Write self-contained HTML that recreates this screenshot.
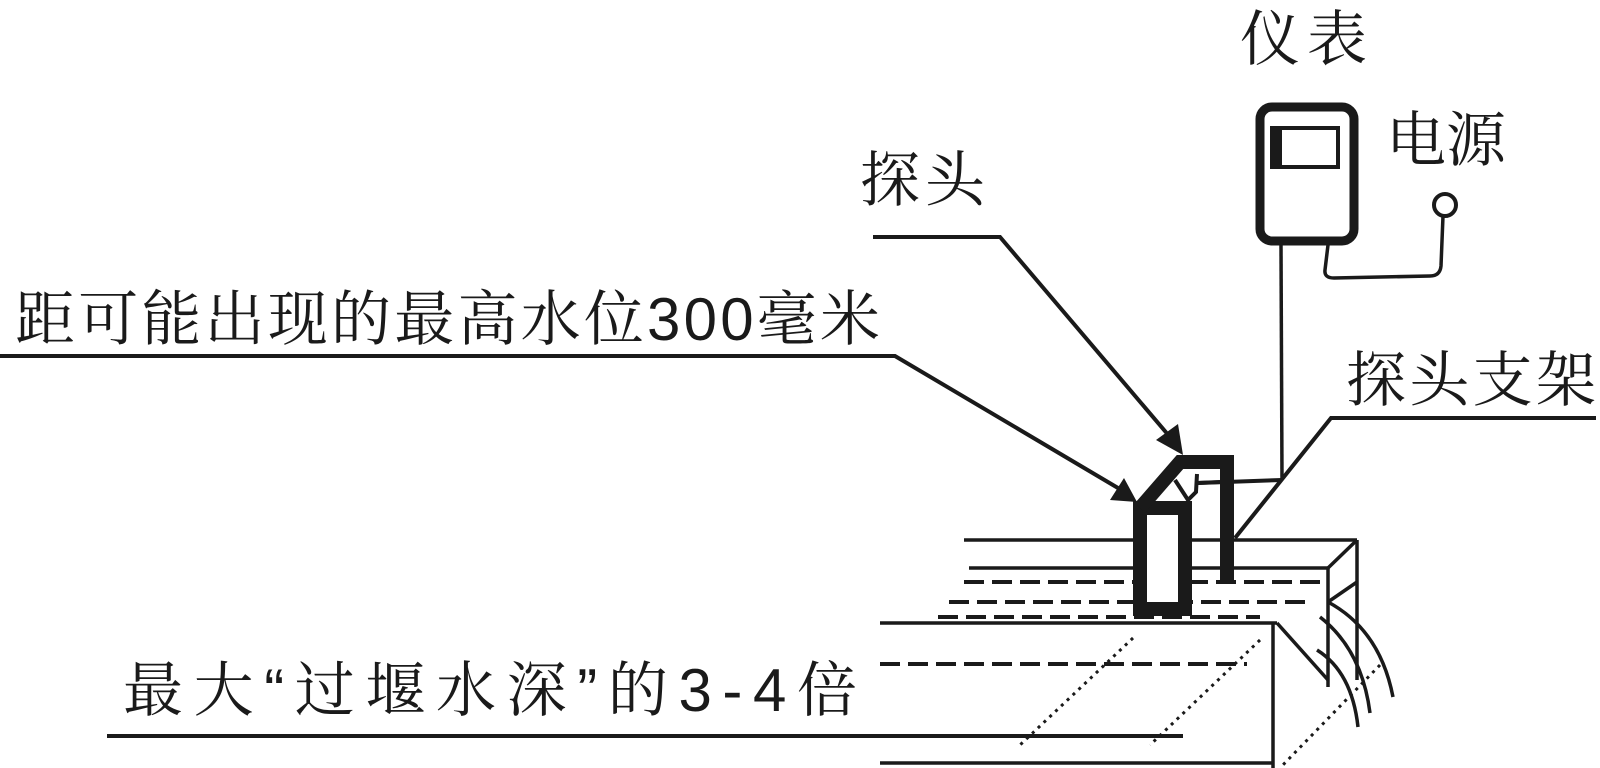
<!DOCTYPE html>
<html><head><meta charset="utf-8"><style>html,body{margin:0;padding:0;background:#fff}svg{display:block}
text{font-family:"Liberation Sans","Noto Serif CJK SC",serif;fill:#1a1a1a}</style></head><body>
<svg width="1600" height="768" viewBox="0 0 1600 768" xmlns="http://www.w3.org/2000/svg">
<g font-size="60">
<text x="1240" y="60" textLength="127" lengthAdjust="spacing">仪表</text>
<text x="1386" y="161" textLength="120" lengthAdjust="spacing">电源</text>
<text x="860" y="201" textLength="125" lengthAdjust="spacing">探头</text>
<text x="1346" y="401" textLength="250" lengthAdjust="spacing">探头支架</text>
<text x="15" y="340" textLength="865" lengthAdjust="spacing">距可能出现的最高水位300毫米</text>
<text x="123" y="711" textLength="734" lengthAdjust="spacing">最大“过堰水深”的3-4倍</text>
</g>
<g stroke="#1a1a1a" fill="none" stroke-width="4">
<!-- meter -->
<rect x="1260" y="107" width="94" height="134" rx="12" stroke-width="9"/>
<rect x="1272" y="128" width="66" height="39" stroke-width="4"/>
<rect x="1272" y="128" width="10" height="39" fill="#1a1a1a" stroke="none"/>
<line x1="1281" y1="245" x2="1282" y2="480" stroke-width="3.5"/>
<line x1="1198" y1="483" x2="1282" y2="480"/>
<path d="M1328,245 L1325,270 Q1324,278 1334,278 L1430,276 Q1440,276 1441,266 L1443,216" stroke-width="3.5"/>
<circle cx="1445" cy="205" r="11" stroke-width="4"/>
<!-- leader lines -->
<polyline points="873,237 1000,237 1170,437"/>
<polyline points="0,356 895,356 1118,488"/>
<polyline points="1596,418 1331,418 1235,538"/>
<line x1="107" y1="736" x2="1183" y2="736"/>
</g>
<!-- arrowheads -->
<polygon points="1183,455 1156,440 1178,424" fill="#1a1a1a"/>
<polygon points="1137,502 1110,500 1124,478" fill="#1a1a1a"/>
<!-- weir body -->
<g stroke="#1a1a1a" fill="none" stroke-width="3.5">
<line x1="964" y1="540" x2="1357" y2="540"/>
<line x1="1357" y1="540" x2="1357" y2="680"/>
<line x1="969" y1="568" x2="1328" y2="568"/>
<line x1="1328" y1="568" x2="1357" y2="540"/>
<line x1="1328" y1="568" x2="1328" y2="687"/>
<line x1="1328" y1="602" x2="1357" y2="582"/>
<line x1="880" y1="623" x2="1277" y2="623"/>
<polyline points="1277,623 1328,680"/>
<line x1="1273" y1="623" x2="1273" y2="768"/>
<line x1="880" y1="763" x2="1273" y2="763"/>
<path d="M1328,602 Q1380,630 1393,697"/>
<path d="M1320,617 Q1362,650 1370,713"/>
<path d="M1317,650 Q1352,672 1358,727"/>
</g>
<g stroke="#1a1a1a" fill="none" stroke-width="4" stroke-dasharray="20,8">
<line x1="964" y1="582" x2="1328" y2="582"/>
<line x1="949" y1="602" x2="1308" y2="602"/>
<line x1="938" y1="617" x2="1260" y2="617"/>
<line x1="880" y1="664" x2="1247" y2="664"/>
</g>
<g stroke="#1a1a1a" fill="none" stroke-width="3" stroke-dasharray="3,5">
<line x1="1133" y1="638" x2="1020" y2="745"/>
<line x1="1260" y1="640" x2="1150" y2="745"/>
<line x1="1380" y1="665" x2="1280" y2="768"/>
</g>
<!-- probe -->
<g stroke="#1a1a1a" fill="none" stroke-width="14" stroke-linejoin="miter">
<rect x="1140" y="508" width="45" height="101" fill="#fff"/>
<path d="M1140,508 L1180,462 L1227,462 L1227,583"/>
</g>
<g stroke="#1a1a1a" fill="none" stroke-width="4">
<path d="M1175,480 L1188,500 L1196,492 L1197,474"/>
<line x1="1197" y1="483" x2="1220" y2="482"/>
</g>
</svg>
</body></html>
